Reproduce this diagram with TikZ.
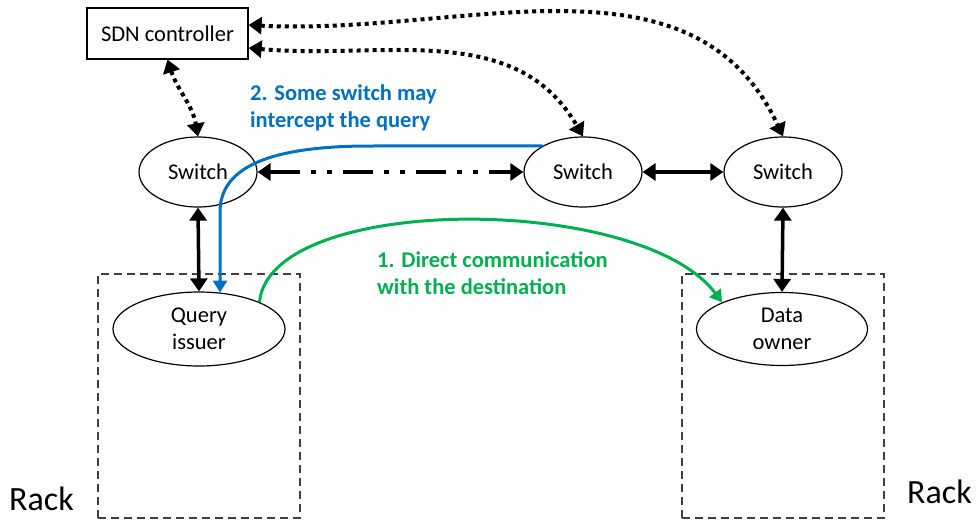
\documentclass[tikz,border=0pt]{standalone}
\usepackage{fontspec}
\setmainfont{Carlito}
\usetikzlibrary{arrows.meta,shapes.geometric}
\definecolor{qblue}{RGB}{0,112,192}
\definecolor{qgreen}{RGB}{0,176,80}
\definecolor{rackgray}{RGB}{64,64,64}
\begin{document}
\begin{tikzpicture}[x=1pt,y=1pt,
  txt/.style={font=\fontsize{22.5}{27.5}\selectfont},
  btxt/.style={font=\fontsize{22.5}{27}\selectfont\bfseries, align=left, inner sep=0pt},
  ctrlbox/.style={draw, rectangle, line width=1.2pt, minimum width=161pt, minimum height=51pt, inner sep=0pt, txt},
  ell/.style={draw, ellipse, line width=1.2pt, inner sep=0pt, txt},
  sw/.style={ell, minimum width=118pt, minimum height=70pt},
  hostn/.style={ell, minimum width=172pt, minimum height=74pt, align=center},
  rack/.style={draw=rackgray, line width=1.2pt, dash pattern=on 8pt off 5pt, minimum width=202pt, minimum height=244pt, inner sep=0pt},
  racklbl/.style={font=\fontsize{34}{40}\selectfont, inner sep=0pt},
  dbl/.style={line width=3.5pt, {Triangle[width=17pt,length=13pt]}-{Triangle[width=17pt,length=13pt]}},
  dotline/.style={line width=4pt, dash pattern=on 4pt off 4pt, {Triangle[width=17pt,length=13pt]}-{Triangle[width=17pt,length=13pt]}},
  bluearr/.style={draw=qblue, line width=3pt, -{Triangle[width=14pt,length=12pt]}},
  greenarr/.style={draw=qgreen, line width=3pt, -{Triangle[width=14pt,length=12pt]}}
]
\useasboundingbox (0,0) rectangle (978,-520);

% racks
\node[rack] (r1) at (199,-396) {};
\node[rack] (r2) at (783,-396) {};
\node[racklbl, anchor=base west] (rl) at (9,-510) {Rack};
\node[racklbl, anchor=base west] (rr) at (907,-503) {Rack};

% nodes
\node[ctrlbox] (sdn) at (167.5,-33.5) {SDN controller};
\node[sw] (s1) at (198,-172) {Switch};
\node[sw] (s2) at (583,-172) {Switch};
\node[sw] (s3) at (783,-172) {Switch};
\node[hostn] (qi) at (199,-329) {Query\\issuer};
\node[hostn, minimum width=171pt, minimum height=73pt] (do) at (782,-329) {Data\\owner};

% labels
\node[btxt, text=qblue, anchor=base west] (lb) at (250,-127) {2. Some switch may\\intercept the query};
\node[btxt, text=qgreen, anchor=base west] (lg) at (377,-294) {1. Direct communication\\with the destination};

% solid / dash-dot links
\draw[dbl] (s1.south) -- (qi.north);
\draw[dbl, dash pattern=on 30pt off 11pt on 5pt off 11pt on 5pt off 11pt] (s1.east) -- (s2.west);
\draw[dbl] (s2.east) -- (s3.west);
\draw[dbl] (s3.south) -- (do.north);

% controller links
\draw[dotline] (sdn.south) to[out=-72,in=100] (s1.north);
\draw[dotline] ([yshift=-14.5pt]sdn.east) to[out=-5,in=120] (s2.north);
\draw[dotline] ([yshift=8.5pt]sdn.east) to[out=-3,in=115] (s3.north);

% query paths
\coordinate (b1) at (370,-146);
\coordinate (b2) at (220,-212);
\draw[bluearr] (s2.147) -- (b1) .. controls +(-100,0) and +(0,45) .. (b2) -- (qi.60);
\draw[greenarr] (qi.24) .. controls (270,-193) and (640,-193) .. (do.156);
\end{tikzpicture}
\end{document}
